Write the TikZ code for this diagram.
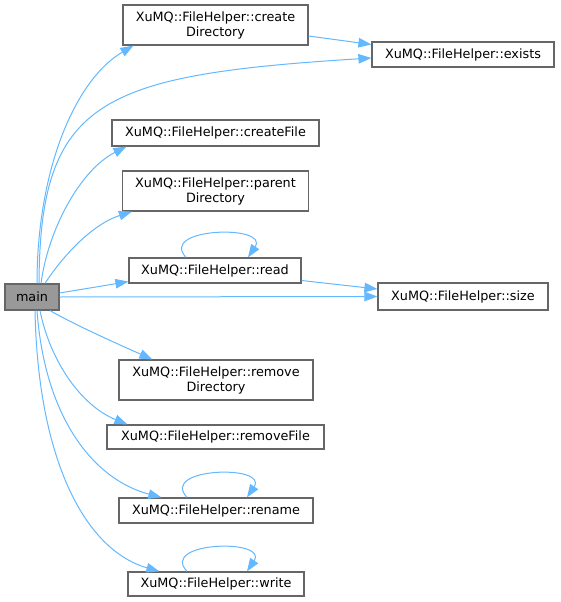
\documentclass[tikz,border=0pt]{standalone}
\usepackage{fontspec}
\setmainfont{DejaVu Sans}
\usetikzlibrary{arrows.meta, calc}
\definecolor{edgeblue}{HTML}{63B8FF}
\definecolor{boxgray}{HTML}{666666}
\definecolor{maingray}{HTML}{999999}

\begin{document}
\begin{tikzpicture}[
  x=1pt, y=-1pt,
  font=\fontsize{12.8}{15}\selectfont,
  >={Triangle[length=13pt,width=9.5pt]},
  func/.style={
    rectangle, draw=boxgray, line width=1.2pt, fill=white,
    inner sep=0pt, minimum height=25pt, align=center, text=black
  },
  twoline/.style={func, minimum height=40pt},
  caller/.style={func, fill=maingray},
  call/.style={->, draw=edgeblue, line width=1pt}
]
\useasboundingbox (0,0) rectangle (560,602);

% Function nodes
\node[caller, minimum width=54pt, minimum height=26pt] (main) at (32,297) {main};
\node[twoline, minimum width=185pt] (cdir) at (215.5,25) {XuMQ::FileHelper::create\\Directory};
\node[func, minimum width=182pt] (exists) at (463,54.5) {XuMQ::FileHelper::exists};
\node[func, minimum width=207pt, minimum height=26pt] (cfile) at (215.5,133) {XuMQ::FileHelper::createFile};
\node[twoline, minimum width=186pt] (pdir) at (215.5,191) {XuMQ::FileHelper::parent\\Directory};
\node[func, minimum width=172pt] (read) at (215,270.5) {XuMQ::FileHelper::read};
\node[func, minimum width=170pt, minimum height=27pt] (size) at (463,296.5) {XuMQ::FileHelper::size};
\node[twoline, minimum width=194pt] (rdir) at (216,380) {XuMQ::FileHelper::remove\\Directory};
\node[func, minimum width=217pt, minimum height=24pt] (rfile) at (215.5,437) {XuMQ::FileHelper::removeFile};
\node[func, minimum width=194pt] (rename) at (216,510.5) {XuMQ::FileHelper::rename};
\node[func, minimum width=176pt, minimum height=24pt] (write) at (216,584) {XuMQ::FileHelper::write};

% Calls from main
\draw[call] ([xshift=5pt]main.north) .. controls (37,170) and (75,80) .. ([xshift=11pt]cdir.south west);
\draw[call] ([xshift=7pt]main.north) .. controls (40,100) and (100,75) .. ([yshift=-3.5pt]exists.west);
\draw[call] ([xshift=9pt]main.north) .. controls (48,230) and (80,170) .. ([xshift=15pt]cfile.south west);
\draw[call] ([xshift=13pt]main.north) .. controls (60,260) and (90,225) .. ([xshift=10pt]pdir.south west);
\draw[call] ([yshift=4pt]main.east) -- ([yshift=2pt]read.south west);
\draw[call] (main.east) -- (size.west);
\draw[call] ([xshift=18pt]main.south) .. controls (75,325) and (120,345) .. ([xshift=34pt]rdir.north west);
\draw[call] ([xshift=8pt]main.south) .. controls (50,360) and (80,405) .. ([xshift=21pt]rfile.north west);
\draw[call] ([xshift=5pt]main.south) .. controls (45,420) and (95,480) .. ([xshift=43pt]rename.north west);
\draw[call] ([xshift=3pt]main.south) .. controls (38,460) and (85,550) .. ([xshift=32pt]write.north west);

% Further calls
\draw[call] ([yshift=-11pt]cdir.east) -- ([yshift=10pt]exists.west);
\draw[call] ([yshift=-10pt]read.east) -- ([yshift=7.5pt]size.west);

% Recursive calls
\draw[call] ([xshift=-29pt]read.north) .. controls +(-28,-30) and +(22,-33) .. ([xshift=33pt]read.north);
\draw[call] ([xshift=-29pt]rename.north) .. controls +(-28,-30) and +(22,-33) .. ([xshift=31pt]rename.north);
\draw[call] ([xshift=-29pt]write.north) .. controls +(-28,-30) and +(22,-33) .. ([xshift=31pt]write.north);

\end{tikzpicture}
\end{document}
